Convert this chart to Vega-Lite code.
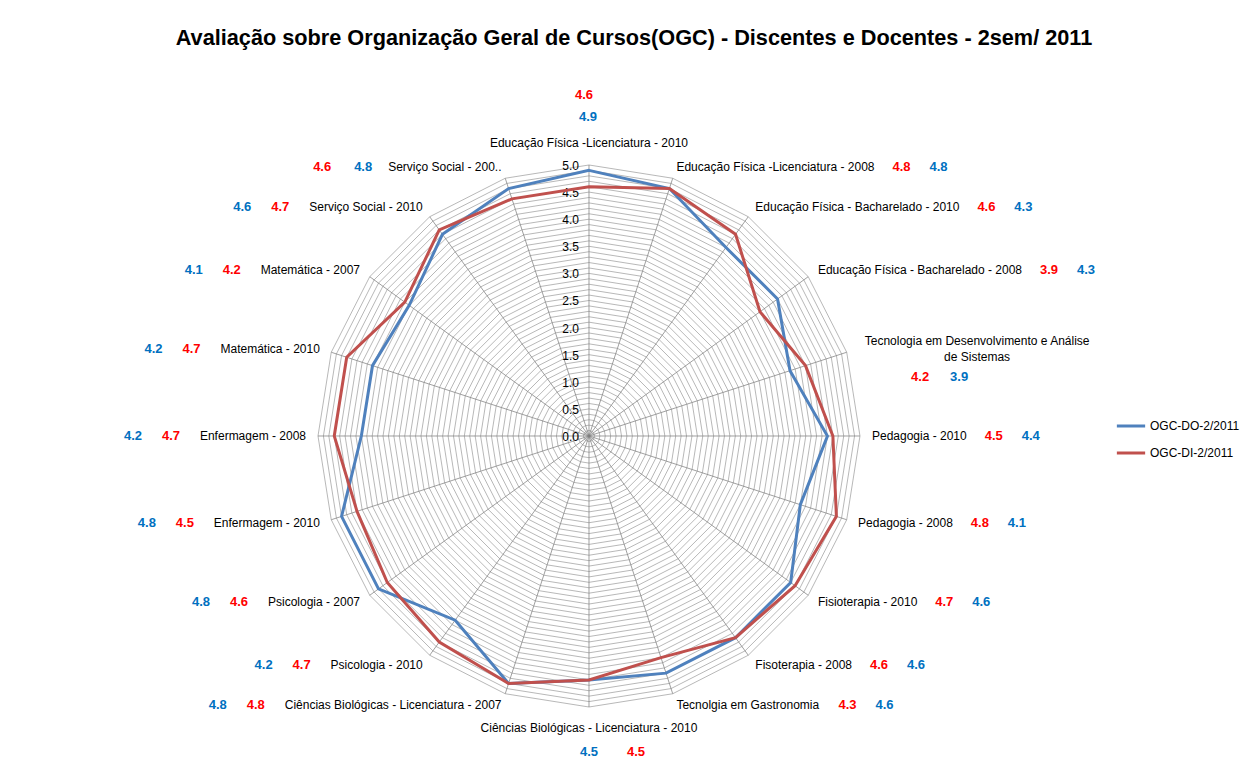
{
  "$schema": "https://vega.github.io/schema/vega-lite/v6.json",
  "width": 1250,
  "height": 765,
  "autosize": {"type": "none"},
  "padding": 0,
  "background": "white",
  "config": {
    "view": {"stroke": null},
    "axis": {"disable": true},
    "text": {"font": "Liberation Sans", "fontSize": 12}
  },
  "title": {
    "text": "Avaliação sobre Organização Geral de Cursos(OGC) - Discentes e Docentes - 2sem/ 2011",
    "font": "Liberation Sans",
    "fontSize": 21.7,
    "fontWeight": "bold",
    "color": "#000000",
    "anchor": "middle",
    "frame": "group",
    "baseline": "alphabetic",
    "offset": -67,
    "dx": 9
  },
  "datasets": {
    "cats": [
      {"i": 0, "cat": "Educação Física -Licenciatura - 2010", "DO": 4.9, "DI": 4.6},
      {"i": 1, "cat": "Educação Física -Licenciatura - 2008", "DO": 4.8, "DI": 4.8},
      {"i": 2, "cat": "Educação Física - Bacharelado - 2010", "DO": 4.3, "DI": 4.6},
      {"i": 3, "cat": "Educação Física - Bacharelado - 2008", "DO": 4.3, "DI": 3.9},
      {"i": 4, "cat": "Tecnologia em Desenvolvimento e Análise\nde Sistemas", "DO": 3.9, "DI": 4.2},
      {"i": 5, "cat": "Pedagogia - 2010", "DO": 4.4, "DI": 4.5},
      {"i": 6, "cat": "Pedagogia - 2008", "DO": 4.1, "DI": 4.8},
      {"i": 7, "cat": "Fisioterapia - 2010", "DO": 4.6, "DI": 4.7},
      {"i": 8, "cat": "Fisoterapia - 2008", "DO": 4.6, "DI": 4.6},
      {"i": 9, "cat": "Tecnolgia em Gastronomia", "DO": 4.6, "DI": 4.3},
      {"i": 10, "cat": "Ciências Biológicas - Licenciatura - 2010", "DO": 4.5, "DI": 4.5},
      {"i": 11, "cat": "Ciências Biológicas - Licenciatura - 2007", "DO": 4.8, "DI": 4.8},
      {"i": 12, "cat": "Psicologia - 2010", "DO": 4.2, "DI": 4.7},
      {"i": 13, "cat": "Psicologia - 2007", "DO": 4.8, "DI": 4.6},
      {"i": 14, "cat": "Enfermagem - 2010", "DO": 4.8, "DI": 4.5},
      {"i": 15, "cat": "Enfermagem - 2008", "DO": 4.2, "DI": 4.7},
      {"i": 16, "cat": "Matemática - 2010", "DO": 4.2, "DI": 4.7},
      {"i": 17, "cat": "Matemática - 2007", "DO": 4.1, "DI": 4.2},
      {"i": 18, "cat": "Serviço Social - 2010", "DO": 4.6, "DI": 4.7},
      {"i": 19, "cat": "Serviço Social - 200..", "DO": 4.8, "DI": 4.6}
    ],
    "rings": [
      {"lv": [0.1,0.2,0.3,0.4,0.5,0.6,0.7,0.8,0.9,1.0,1.1,1.2,1.3,1.4,1.5,1.6,1.7,1.8,1.9,2.0,2.1,2.2,2.3,2.4,2.5,2.6,2.7,2.8,2.9,3.0,3.1,3.2,3.3,3.4,3.5,3.6,3.7,3.8,3.9,4.0,4.1,4.2,4.3,4.4,4.5,4.6,4.7,4.8,4.9,5.0],
       "k": [0,1,2,3,4,5,6,7,8,9,10,11,12,13,14,15,16,17,18,19]}
    ],
    "ticks": [
      {"v": 0.0}, {"v": 0.5}, {"v": 1.0}, {"v": 1.5}, {"v": 2.0}, {"v": 2.5},
      {"v": 3.0}, {"v": 3.5}, {"v": 4.0}, {"v": 4.5}, {"v": 5.0}
    ]
  },
  "layer": [
    {
      "data": {"name": "rings"},
      "transform": [
        {"flatten": ["lv"]},
        {"flatten": ["k"]},
        {"calculate": "datum.lv*sin(datum.k*PI/10)", "as": "X"},
        {"calculate": "datum.lv*cos(datum.k*PI/10)", "as": "Y"}
      ],
      "mark": {"type": "line", "interpolate": "linear-closed", "color": "#a0a0a0", "strokeWidth": 0.75},
      "encoding": {
        "x": {"field": "X", "type": "quantitative", "scale": {"domain": [-10.867, 12.196], "nice": false, "zero": false}},
        "y": {"field": "Y", "type": "quantitative", "scale": {"domain": [-6.070, 8.044], "nice": false, "zero": false}},
        "detail": {"field": "lv", "type": "nominal"},
        "order": {"field": "k", "type": "quantitative"}
      }
    },
    {
      "data": {"name": "cats"},
      "transform": [
        {"calculate": "5*sin(datum.i*PI/10)", "as": "X"},
        {"calculate": "5*cos(datum.i*PI/10)", "as": "Y"}
      ],
      "mark": {"type": "rule", "color": "#808080", "strokeWidth": 0.75},
      "encoding": {
        "x": {"field": "X", "type": "quantitative", "scale": {"domain": [-10.867, 12.196], "nice": false, "zero": false}},
        "y": {"field": "Y", "type": "quantitative", "scale": {"domain": [-6.070, 8.044], "nice": false, "zero": false}},
        "x2": {"datum": 0},
        "y2": {"datum": 0}
      }
    },
    {
      "data": {"name": "ticks"},
      "transform": [{"calculate": "0", "as": "X"}],
      "mark": {"type": "text", "align": "right", "baseline": "middle", "dx": -10, "dy": 1, "color": "#000000"},
      "encoding": {
        "x": {"field": "X", "type": "quantitative", "scale": {"domain": [-10.867, 12.196], "nice": false, "zero": false}},
        "y": {"field": "v", "type": "quantitative", "scale": {"domain": [-6.070, 8.044], "nice": false, "zero": false}},
        "text": {"field": "v", "type": "quantitative", "format": ".1f"}
      }
    },
    {
      "data": {"name": "cats"},
      "transform": [
        {"fold": ["DO", "DI"], "as": ["series", "val"]},
        {"calculate": "datum.val*sin(datum.i*PI/10)", "as": "X"},
        {"calculate": "datum.val*cos(datum.i*PI/10)", "as": "Y"}
      ],
      "mark": {"type": "line", "interpolate": "linear-closed", "strokeWidth": 3},
      "encoding": {
        "x": {"field": "X", "type": "quantitative", "scale": {"domain": [-10.867, 12.196], "nice": false, "zero": false}},
        "y": {"field": "Y", "type": "quantitative", "scale": {"domain": [-6.070, 8.044], "nice": false, "zero": false}},
        "order": {"field": "i", "type": "quantitative"},
        "color": {
          "field": "series", "type": "nominal",
          "scale": {"domain": ["DO", "DI"], "range": ["#4F81BD", "#C0504D"]},
          "legend": {
            "title": null, "orient": "none", "legendX": 1115, "legendY": 410,
            "symbolType": "stroke", "symbolStrokeWidth": 3, "symbolSize": 800,
            "labelFont": "Liberation Sans", "labelFontSize": 12, "labelColor": "#000000",
            "labelOffset": 3, "rowPadding": 5, "padding": 0,
            "labelExpr": "datum.label == 'DO' ? 'OGC-DO-2/2011' : 'OGC-DI-2/2011'"
          }
        }
      }
    },
    {
      "data": {"name": "cats"},
      "transform": [
        {"filter": "(datum.i>=1 && datum.i<=9 && datum.i!=4) || datum.i>=11"},
        {"calculate": "length(datum.cat)", "as": "n"},
        {"calculate": "datum.n - length(replace(datum.cat, regexp('[ilj]','g'), ''))", "as": "c1"},
        {"calculate": "datum.n - length(replace(datum.cat, regexp('[ ft.íI]','g'), ''))", "as": "c2"},
        {"calculate": "datum.n - length(replace(datum.cat, regexp('[-r]','g'), ''))", "as": "c3"},
        {"calculate": "datum.n - length(replace(datum.cat, regexp('[cksvxyzç]','g'), ''))", "as": "c4"},
        {"calculate": "datum.n - length(replace(datum.cat, regexp('[FT]','g'), ''))", "as": "c5"},
        {"calculate": "datum.n - length(replace(datum.cat, regexp('[ABEPS]','g'), ''))", "as": "c6"},
        {"calculate": "datum.n - length(replace(datum.cat, regexp('[CD]','g'), ''))", "as": "c7"},
        {"calculate": "datum.n - length(replace(datum.cat, regexp('G','g'), ''))", "as": "c8"},
        {"calculate": "datum.n - length(replace(datum.cat, regexp('[mM]','g'), ''))", "as": "c9"},
        {"calculate": "0.012*(datum.n*556 - 334*datum.c1 - 278*datum.c2 - 223*datum.c3 - 56*datum.c4 + 55*datum.c5 + 111*datum.c6 + 166*datum.c7 + 222*datum.c8 + 277*datum.c9)", "as": "w"},
        {"calculate": "datum.i < 10 ? (datum.w + 27) : (datum.i == 19 ? -(datum.w + 66) : -(datum.w + 29))", "as": "off"},
        {"calculate": "5.221*sin(datum.i*PI/10) + datum.off/54.2", "as": "X"},
        {"calculate": "5.221*cos(datum.i*PI/10)", "as": "Y"}
      ],
      "mark": {"type": "text", "align": "center", "baseline": "middle", "fontSize": 13, "fontWeight": "bold", "color": "#FF0000"},
      "encoding": {
        "x": {"field": "X", "type": "quantitative", "scale": {"domain": [-10.867, 12.196], "nice": false, "zero": false}},
        "y": {"field": "Y", "type": "quantitative", "scale": {"domain": [-6.070, 8.044], "nice": false, "zero": false}},
        "text": {"field": "DI", "type": "quantitative", "format": ".1f"}
      }
    },
    {
      "data": {"name": "cats"},
      "transform": [
        {"filter": "(datum.i>=1 && datum.i<=9 && datum.i!=4) || datum.i>=11"},
        {"calculate": "length(datum.cat)", "as": "n"},
        {"calculate": "datum.n - length(replace(datum.cat, regexp('[ilj]','g'), ''))", "as": "c1"},
        {"calculate": "datum.n - length(replace(datum.cat, regexp('[ ft.íI]','g'), ''))", "as": "c2"},
        {"calculate": "datum.n - length(replace(datum.cat, regexp('[-r]','g'), ''))", "as": "c3"},
        {"calculate": "datum.n - length(replace(datum.cat, regexp('[cksvxyzç]','g'), ''))", "as": "c4"},
        {"calculate": "datum.n - length(replace(datum.cat, regexp('[FT]','g'), ''))", "as": "c5"},
        {"calculate": "datum.n - length(replace(datum.cat, regexp('[ABEPS]','g'), ''))", "as": "c6"},
        {"calculate": "datum.n - length(replace(datum.cat, regexp('[CD]','g'), ''))", "as": "c7"},
        {"calculate": "datum.n - length(replace(datum.cat, regexp('G','g'), ''))", "as": "c8"},
        {"calculate": "datum.n - length(replace(datum.cat, regexp('[mM]','g'), ''))", "as": "c9"},
        {"calculate": "0.012*(datum.n*556 - 334*datum.c1 - 278*datum.c2 - 223*datum.c3 - 56*datum.c4 + 55*datum.c5 + 111*datum.c6 + 166*datum.c7 + 222*datum.c8 + 277*datum.c9)", "as": "w"},
        {"calculate": "datum.i < 10 ? (datum.w + 64) : (datum.i == 19 ? -(datum.w + 25) : -(datum.w + 67))", "as": "off"},
        {"calculate": "5.221*sin(datum.i*PI/10) + datum.off/54.2", "as": "X"},
        {"calculate": "5.221*cos(datum.i*PI/10)", "as": "Y"}
      ],
      "mark": {"type": "text", "align": "center", "baseline": "middle", "fontSize": 13, "fontWeight": "bold", "color": "#0070C0"},
      "encoding": {
        "x": {"field": "X", "type": "quantitative", "scale": {"domain": [-10.867, 12.196], "nice": false, "zero": false}},
        "y": {"field": "Y", "type": "quantitative", "scale": {"domain": [-6.070, 8.044], "nice": false, "zero": false}},
        "text": {"field": "DO", "type": "quantitative", "format": ".1f"}
      }
    },
    {
      "data": {"name": "cats"},
      "transform": [
        {"filter": "datum.i>=1 && datum.i<=9 && datum.i!=4"},
        {"calculate": "5.221*sin(datum.i*PI/10)", "as": "X"},
        {"calculate": "5.221*cos(datum.i*PI/10)", "as": "Y"}
      ],
      "mark": {"type": "text", "align": "left", "baseline": "middle", "color": "#000000"},
      "encoding": {
        "x": {"field": "X", "type": "quantitative", "scale": {"domain": [-10.867, 12.196], "nice": false, "zero": false}},
        "y": {"field": "Y", "type": "quantitative", "scale": {"domain": [-6.070, 8.044], "nice": false, "zero": false}},
        "text": {"field": "cat"}
      }
    },
    {
      "data": {"name": "cats"},
      "transform": [
        {"filter": "datum.i>=11 && datum.i<=19"},
        {"calculate": "5.221*sin(datum.i*PI/10)", "as": "X"},
        {"calculate": "5.221*cos(datum.i*PI/10)", "as": "Y"}
      ],
      "mark": {"type": "text", "align": "right", "baseline": "middle", "color": "#000000"},
      "encoding": {
        "x": {"field": "X", "type": "quantitative", "scale": {"domain": [-10.867, 12.196], "nice": false, "zero": false}},
        "y": {"field": "Y", "type": "quantitative", "scale": {"domain": [-6.070, 8.044], "nice": false, "zero": false}},
        "text": {"field": "cat"}
      }
    },
    {
      "data": {"name": "cats"},
      "transform": [
        {"filter": "datum.i==0"},
        {"calculate": "5.221*sin(datum.i*PI/10)", "as": "X"},
        {"calculate": "5.221*cos(datum.i*PI/10)", "as": "Y"}
      ],
      "mark": {"type": "text", "align": "center", "baseline": "middle", "dy": -10, "color": "#000000"},
      "encoding": {
        "x": {"field": "X", "type": "quantitative", "scale": {"domain": [-10.867, 12.196], "nice": false, "zero": false}},
        "y": {"field": "Y", "type": "quantitative", "scale": {"domain": [-6.070, 8.044], "nice": false, "zero": false}},
        "text": {"field": "cat"}
      }
    },
    {
      "data": {"name": "cats"},
      "transform": [
        {"filter": "datum.i==0"},
        {"calculate": "5.221*sin(datum.i*PI/10)", "as": "X"},
        {"calculate": "5.221*cos(datum.i*PI/10)", "as": "Y"}
      ],
      "mark": {"type": "text", "align": "center", "baseline": "middle", "dx": -1, "dy": -36, "fontSize": 13, "fontWeight": "bold", "color": "#0070C0"},
      "encoding": {
        "x": {"field": "X", "type": "quantitative", "scale": {"domain": [-10.867, 12.196], "nice": false, "zero": false}},
        "y": {"field": "Y", "type": "quantitative", "scale": {"domain": [-6.070, 8.044], "nice": false, "zero": false}},
        "text": {"field": "DO", "type": "quantitative", "format": ".1f"}
      }
    },
    {
      "data": {"name": "cats"},
      "transform": [
        {"filter": "datum.i==0"},
        {"calculate": "5.221*sin(datum.i*PI/10)", "as": "X"},
        {"calculate": "5.221*cos(datum.i*PI/10)", "as": "Y"}
      ],
      "mark": {"type": "text", "align": "center", "baseline": "middle", "dx": -5, "dy": -58, "fontSize": 13, "fontWeight": "bold", "color": "#FF0000"},
      "encoding": {
        "x": {"field": "X", "type": "quantitative", "scale": {"domain": [-10.867, 12.196], "nice": false, "zero": false}},
        "y": {"field": "Y", "type": "quantitative", "scale": {"domain": [-6.070, 8.044], "nice": false, "zero": false}},
        "text": {"field": "DI", "type": "quantitative", "format": ".1f"}
      }
    },
    {
      "data": {"name": "cats"},
      "transform": [
        {"filter": "datum.i==10"},
        {"calculate": "5.221*sin(datum.i*PI/10)", "as": "X"},
        {"calculate": "5.221*cos(datum.i*PI/10)", "as": "Y"}
      ],
      "mark": {"type": "text", "align": "center", "baseline": "middle", "dy": 9, "color": "#000000"},
      "encoding": {
        "x": {"field": "X", "type": "quantitative", "scale": {"domain": [-10.867, 12.196], "nice": false, "zero": false}},
        "y": {"field": "Y", "type": "quantitative", "scale": {"domain": [-6.070, 8.044], "nice": false, "zero": false}},
        "text": {"field": "cat"}
      }
    },
    {
      "data": {"name": "cats"},
      "transform": [
        {"filter": "datum.i==10"},
        {"calculate": "5.221*sin(datum.i*PI/10)", "as": "X"},
        {"calculate": "5.221*cos(datum.i*PI/10)", "as": "Y"}
      ],
      "mark": {"type": "text", "align": "center", "baseline": "middle", "dx": 0, "dy": 33, "fontSize": 13, "fontWeight": "bold", "color": "#0070C0"},
      "encoding": {
        "x": {"field": "X", "type": "quantitative", "scale": {"domain": [-10.867, 12.196], "nice": false, "zero": false}},
        "y": {"field": "Y", "type": "quantitative", "scale": {"domain": [-6.070, 8.044], "nice": false, "zero": false}},
        "text": {"field": "DO", "type": "quantitative", "format": ".1f"}
      }
    },
    {
      "data": {"name": "cats"},
      "transform": [
        {"filter": "datum.i==10"},
        {"calculate": "5.221*sin(datum.i*PI/10)", "as": "X"},
        {"calculate": "5.221*cos(datum.i*PI/10)", "as": "Y"}
      ],
      "mark": {"type": "text", "align": "center", "baseline": "middle", "dx": 47, "dy": 33, "fontSize": 13, "fontWeight": "bold", "color": "#FF0000"},
      "encoding": {
        "x": {"field": "X", "type": "quantitative", "scale": {"domain": [-10.867, 12.196], "nice": false, "zero": false}},
        "y": {"field": "Y", "type": "quantitative", "scale": {"domain": [-6.070, 8.044], "nice": false, "zero": false}},
        "text": {"field": "DI", "type": "quantitative", "format": ".1f"}
      }
    },
    {
      "data": {"name": "cats"},
      "transform": [
        {"filter": "datum.i==4"},
        {"calculate": "5.221*sin(datum.i*PI/10)", "as": "X"},
        {"calculate": "5.221*cos(datum.i*PI/10)", "as": "Y"}
      ],
      "mark": {"type": "text", "align": "center", "baseline": "middle", "dx": 119, "dy": -8, "lineBreak": "\n", "lineHeight": 16, "color": "#000000"},
      "encoding": {
        "x": {"field": "X", "type": "quantitative", "scale": {"domain": [-10.867, 12.196], "nice": false, "zero": false}},
        "y": {"field": "Y", "type": "quantitative", "scale": {"domain": [-6.070, 8.044], "nice": false, "zero": false}},
        "text": {"field": "cat"}
      }
    },
    {
      "data": {"name": "cats"},
      "transform": [
        {"filter": "datum.i==4"},
        {"calculate": "5.221*sin(datum.i*PI/10)", "as": "X"},
        {"calculate": "5.221*cos(datum.i*PI/10)", "as": "Y"}
      ],
      "mark": {"type": "text", "align": "center", "baseline": "middle", "dx": 62, "dy": 28, "fontSize": 13, "fontWeight": "bold", "color": "#FF0000"},
      "encoding": {
        "x": {"field": "X", "type": "quantitative", "scale": {"domain": [-10.867, 12.196], "nice": false, "zero": false}},
        "y": {"field": "Y", "type": "quantitative", "scale": {"domain": [-6.070, 8.044], "nice": false, "zero": false}},
        "text": {"field": "DI", "type": "quantitative", "format": ".1f"}
      }
    },
    {
      "data": {"name": "cats"},
      "transform": [
        {"filter": "datum.i==4"},
        {"calculate": "5.221*sin(datum.i*PI/10)", "as": "X"},
        {"calculate": "5.221*cos(datum.i*PI/10)", "as": "Y"}
      ],
      "mark": {"type": "text", "align": "center", "baseline": "middle", "dx": 101, "dy": 28, "fontSize": 13, "fontWeight": "bold", "color": "#0070C0"},
      "encoding": {
        "x": {"field": "X", "type": "quantitative", "scale": {"domain": [-10.867, 12.196], "nice": false, "zero": false}},
        "y": {"field": "Y", "type": "quantitative", "scale": {"domain": [-6.070, 8.044], "nice": false, "zero": false}},
        "text": {"field": "DO", "type": "quantitative", "format": ".1f"}
      }
    }
  ]
}
